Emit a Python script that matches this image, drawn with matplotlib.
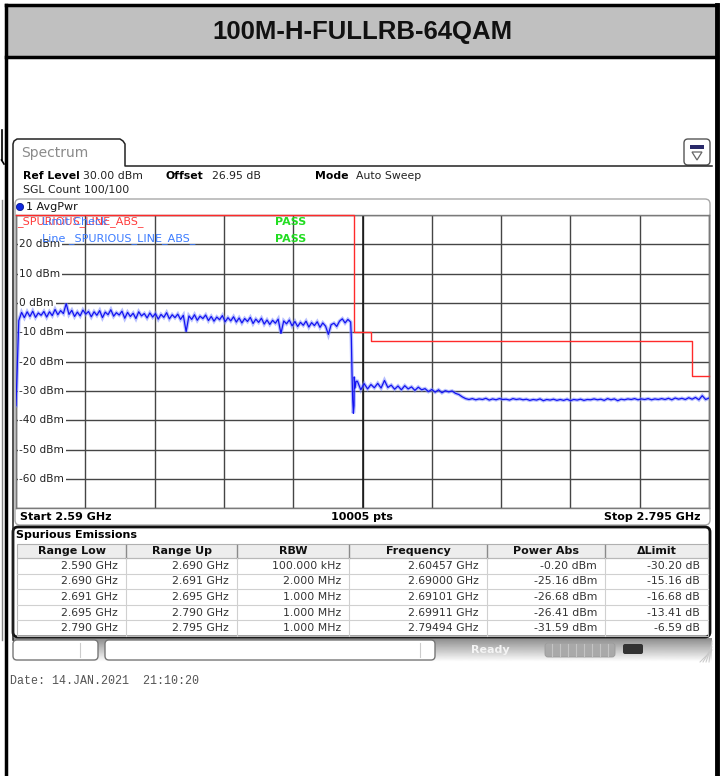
import numpy as np
import matplotlib
matplotlib.use("Agg")
import matplotlib.pyplot as plt
from matplotlib.patches import Rectangle, FancyBboxPatch, Circle, Polygon
from matplotlib.transforms import blended_transform_factory

# ---------------- data ----------------
title = "100M-H-FULLRB-64QAM"
start_ghz = 2.59
stop_ghz = 2.795
ref_level = 30.0
bottom_level = -70.0
y_tick_values = [20, 10, 0, -10, -20, -30, -40, -50, -60]

range_low = [2.590, 2.690, 2.691, 2.695, 2.790]
range_up = [2.690, 2.691, 2.695, 2.790, 2.795]
limit_dbm = [30.0, -10.0, -10.0, -13.0, -25.0]

# trace, part 1 (in-band, 2.5900 .. 2.6890 GHz)
trace1_dbm = [
    -35.0, -6.0, -3.2, -5.0, -3.0, -4.6, -2.8, -4.9, -3.4, -4.2,
    -2.9, -4.8, -3.0, -4.3, -2.2, -4.0, -2.6, -3.6, -0.2, -3.9,
    -2.5, -4.6, -3.1, -4.4, -2.4, -3.8, -2.9, -4.7, -3.0, -4.2,
    -2.6, -5.0, -3.1, -4.0, -2.3, -4.5, -3.3, -4.1, -2.8, -5.2,
    -3.2, -4.6, -3.5, -5.3, -3.0, -4.4, -3.6, -5.1, -3.4, -4.8,
    -3.6, -5.5, -3.9, -4.9, -3.3, -5.4, -4.0, -5.0, -3.8, -5.6,
    -4.2, -9.8, -4.4, -5.6, -4.0, -5.9, -4.5, -5.3, -4.1, -6.0,
    -4.6, -6.2, -4.8, -5.7, -4.3, -6.4, -5.0, -6.1, -4.7, -6.5,
    -5.1, -6.8, -5.3, -6.3, -4.9, -7.0, -5.5, -6.6, -5.2, -7.2,
    -5.8, -7.3, -5.9, -6.9, -5.5, -10.4, -6.1, -7.1, -5.8, -7.8,
    -6.3, -8.0, -6.6, -7.6, -6.2, -8.2, -6.7, -7.7, -6.4, -8.3,
    -6.8, -7.9, -10.7, -7.4, -6.9, -8.0, -6.2, -5.4, -6.8, -5.6,
    -6.5]
# band edge transition
edge_ghz = [2.6892, 2.6894, 2.6896, 2.6898, 2.6900, 2.69005, 2.6903, 2.6906]
edge_dbm = [-12.0, -24.0, -33.0, -37.6, -35.0, -25.2, -29.0, -26.7]
# trace, part 2 (out of band, 2.6910 .. 2.7950 GHz)
trace2_dbm = [
    -26.7, -29.6, -27.5, -29.3, -27.8, -28.9, -27.4, -29.0, -26.4, -28.8,
    -28.0, -29.4, -28.3, -29.6, -28.2, -29.3, -28.6, -29.8, -28.7, -29.6,
    -29.2, -30.2, -29.5, -30.4, -29.6, -30.6, -29.9, -30.3, -30.0, -30.8,
    -31.2, -32.0, -32.6, -32.9, -32.6, -33.0, -32.7, -32.9, -32.5, -33.1,
    -32.7, -33.0, -32.6, -32.9, -32.8, -33.1, -32.6, -32.9, -32.7, -33.0,
    -32.8, -33.2, -32.9, -33.1, -32.7, -33.3, -32.9, -33.1, -32.8, -33.2,
    -32.9, -33.2, -32.8, -33.3, -32.9, -33.1, -32.8, -33.2, -32.9, -33.0,
    -32.7, -33.0, -32.8, -33.2, -32.6, -33.0, -32.7, -33.3, -32.8, -33.0,
    -32.7, -32.9, -32.6, -33.0, -32.7, -32.9, -32.6, -33.0, -32.7, -32.9,
    -32.6, -32.9, -32.5, -33.0, -32.4, -32.8, -32.5, -32.9, -32.3, -32.8,
    -32.2, -33.0, -31.6, -32.9, -32.4]

table_headers = ["Range Low", "Range Up", "RBW", "Frequency", "Power Abs", "\u0394Limit"]
col_range_low = ["2.590 GHz", "2.690 GHz", "2.691 GHz", "2.695 GHz", "2.790 GHz"]
col_range_up = ["2.690 GHz", "2.691 GHz", "2.695 GHz", "2.790 GHz", "2.795 GHz"]
col_rbw = ["100.000 kHz", "2.000 MHz", "1.000 MHz", "1.000 MHz", "1.000 MHz"]
col_freq = ["2.60457 GHz", "2.69000 GHz", "2.69101 GHz", "2.69911 GHz", "2.79494 GHz"]
col_power = ["-0.20 dBm", "-25.16 dBm", "-26.68 dBm", "-26.41 dBm", "-31.59 dBm"]
col_delta = ["-30.20 dB", "-15.16 dB", "-16.68 dB", "-13.41 dB", "-6.59 dB"]

# ---------------- figure ----------------
W, H = 720, 776
fig = plt.figure(figsize=(W / 100, H / 100), dpi=100)
bg = fig.add_axes([0, 0, 1, 1])
bg.set_xlim(0, W)
bg.set_ylim(H, 0)
bg.axis("off")

SANS = "DejaVu Sans"

# outer table cell frame & title band
bg.add_patch(Rectangle((6, 5), 711, 52, facecolor="#c0c0c0", edgecolor="none"))
bg.plot([6, 717], [5, 5], color="black", lw=2.5)
bg.plot([6, 717], [57, 57], color="black", lw=2.5)
bg.plot([6, 6], [5, 776], color="black", lw=2.5)
bg.plot([717, 717], [5, 776], color="black", lw=3.5)
bg.text(362, 32, title, ha="center", va="center", fontsize=18.5,
        fontweight="bold", family="Liberation Sans", color="#111111")

# bits of neighbouring screenshot at far left
bg.plot([1.5, 1.5], [130, 160], color="black", lw=1.2)
bg.plot([1.5, 4], [160, 164], color="black", lw=1.2)
bg.plot([1.5, 1.5], [200, 640], color="#888888", lw=1.0)

# window frame with "Spectrum" tab
tab = [(13, 640), (13, 144), (14, 141), (17, 139), (120, 139), (123, 141),
       (125, 144), (125, 166), (712, 166)]
bg.plot([p[0] for p in tab], [p[1] for p in tab], color="#222222", lw=1.1)
bg.text(21, 153, "Spectrum", fontsize=10, family=SANS, color="#8a8a8a",
        va="center", ha="left")

# small icon top right
bg.add_patch(FancyBboxPatch((684, 139), 26, 26, boxstyle="round,pad=0,rounding_size=4",
                            facecolor="white", edgecolor="#555555", lw=1.0))
bg.add_patch(Rectangle((690, 145), 14, 4, facecolor="#2a2a6a", edgecolor="none"))
bg.add_patch(Polygon([(692, 152), (702, 152), (697, 160)], closed=True,
                     facecolor="white", edgecolor="#666666", lw=0.9))

# header info
bg.text(23, 176, "Ref Level", fontsize=7.8, fontweight="bold", family=SANS, va="center")
bg.text(83, 176, "30.00 dBm", fontsize=7.8, family=SANS, va="center", color="#222222")
bg.text(166, 176, "Offset", fontsize=7.8, fontweight="bold", family=SANS, va="center")
bg.text(212, 176, "26.95 dB", fontsize=7.8, family=SANS, va="center", color="#222222")
bg.text(315, 176, "Mode", fontsize=7.8, fontweight="bold", family=SANS, va="center")
bg.text(356, 176, "Auto Sweep", fontsize=7.8, family=SANS, va="center", color="#222222")
bg.text(23, 190, "SGL Count 100/100", fontsize=7.8, family=SANS, va="center", color="#222222")

# trace panel
bg.add_patch(FancyBboxPatch((15, 199), 695, 326, boxstyle="round,pad=0,rounding_size=5",
                            facecolor="white", edgecolor="#a8a8a8", lw=1.0))
bg.add_patch(Circle((20, 207), 3.6, facecolor="#1028e0", edgecolor="#0a1a90", lw=0.6))
bg.text(26, 207.5, "1 AvgPwr", fontsize=8, family=SANS, va="center", color="#111111")

# ---------------- spectrum axes ----------------
x0, x1, y0, y1 = 16, 709, 215, 508.3
ax = fig.add_axes([x0 / W, 1 - y1 / H, (x1 - x0) / W, (y1 - y0) / H])
ax.set_xlim(start_ghz, stop_ghz)
ax.set_ylim(bottom_level, ref_level)
ax.set_xticks(np.linspace(start_ghz, stop_ghz, 11))
ax.set_yticks(np.arange(bottom_level, ref_level + 1, 10))
ax.tick_params(length=0, labelbottom=False, labelleft=False)
ax.set_axisbelow(True)
ax.grid(True, color="#454545", lw=1.0)
ax.axvline((start_ghz + stop_ghz) / 2, color="#111111", lw=1.1, zorder=1)
for s in ax.spines.values():
    s.set_color("#7a7a7a")
    s.set_linewidth(1.0)

yl_tr = blended_transform_factory(ax.transAxes, ax.transData)
for v in y_tick_values:
    ax.text(0.005, v, f"{v} dBm", transform=yl_tr, fontsize=7.6, family=SANS,
            color="#222222", va="center", ha="left", zorder=2.5,
            bbox=dict(facecolor="white", edgecolor="none", pad=1.4))

# limit line
lim_x, lim_y = [], []
for lo, up, lv in zip(range_low, range_up, limit_dbm):
    lim_x += [lo, up]
    lim_y += [lv, lv]
ax.plot(lim_x, lim_y, color="#ff2a2a", lw=1.0, zorder=2.8, clip_on=False)

# trace
f1 = np.linspace(2.5900, 2.6890, len(trace1_dbm))
f2 = np.linspace(2.6910, 2.7950, len(trace2_dbm))
tf = np.concatenate([f1, edge_ghz, f2])
tv = np.concatenate([trace1_dbm, edge_dbm, trace2_dbm])
ax.plot(tf, tv, color="#7d8cff", lw=2.6, alpha=0.55, zorder=3, solid_joinstyle="miter")
ax.plot(tf, tv, color="#1414f0", lw=0.9, zorder=3.2)

# limit check texts (they overlap in the original screen too)
ax.text(17, 222, "_SPURIOUS_LINE_ABS_", transform=bg.transData, fontsize=8,
        family=SANS, color="#ff3b3b", va="center", zorder=4, clip_on=False)
ax.text(42, 222, "Limit Check", transform=bg.transData, fontsize=8,
        family=SANS, color="#3c7cff", va="center", zorder=4.1, clip_on=False)
ax.text(42, 239, "Line _SPURIOUS_LINE_ABS_", transform=bg.transData, fontsize=8,
        family=SANS, color="#3c7cff", va="center", zorder=4.1, clip_on=False)
for yy in (222, 239):
    ax.text(275, yy, "PASS", transform=bg.transData, fontsize=8, fontweight="bold",
            family=SANS, color="#22dd22", va="center", zorder=4.1, clip_on=False)

# start / stop row
bg.text(20, 516.5, "Start 2.59 GHz", fontsize=8, fontweight="bold", family=SANS, va="center")
bg.text(362, 516.5, "10005 pts", fontsize=8, fontweight="bold", family=SANS, va="center", ha="center")
bg.text(700, 516.5, "Stop 2.795 GHz", fontsize=8, fontweight="bold", family=SANS, va="center", ha="right")

# ---------------- spurious emissions table ----------------
bg.add_patch(FancyBboxPatch((13, 527), 697, 110, boxstyle="round,pad=0,rounding_size=5",
                            facecolor="white", edgecolor="#111111", lw=2.0))
bg.text(16, 535.5, "Spurious Emissions", fontsize=8, fontweight="bold", family=SANS, va="center")

col_edges = [17, 126, 237, 349, 487, 605, 708]
hdr_top, hdr_bot = 544, 558
row_h = 15.6
bg.add_patch(Rectangle((col_edges[0], hdr_top), col_edges[-1] - col_edges[0], hdr_bot - hdr_top,
                       facecolor="#ededed", edgecolor="#b0b0b0", lw=0.8))
for i, hname in enumerate(table_headers):
    cx = (col_edges[i] + col_edges[i + 1]) / 2
    bg.text(cx, 551.5, hname, fontsize=8, fontweight="bold", family=SANS,
            ha="center", va="center", color="#111111")
for xe in col_edges[1:-1]:
    bg.plot([xe, xe], [hdr_top + 1, hdr_bot], color="#8a8a8a", lw=1.0)
    bg.plot([xe, xe], [hdr_bot, hdr_bot + 5 * row_h], color="#d0d0d0", lw=0.8)
bg.add_patch(Rectangle((col_edges[0], hdr_bot), col_edges[-1] - col_edges[0], 5 * row_h,
                       facecolor="none", edgecolor="#b8b8b8", lw=0.8))
columns = [col_range_low, col_range_up, col_rbw, col_freq, col_power, col_delta]
for r in range(5):
    yc = hdr_bot + (r + 0.5) * row_h
    if r > 0:
        bg.plot([col_edges[0], col_edges[-1]], [hdr_bot + r * row_h] * 2, color="#d0d0d0", lw=0.8)
    for c, col in enumerate(columns):
        bg.text(col_edges[c + 1] - 8, yc, col[r], fontsize=7.8, family=SANS,
                ha="right", va="center", color="#333333")

# ---------------- status bar ----------------
grad = np.linspace(0.55, 1.0, 40).reshape(-1, 1)
bg.imshow(grad, extent=(13, 712, 662, 638), cmap="gray", vmin=0, vmax=1,
          aspect="auto", zorder=0.5)
bg.add_patch(FancyBboxPatch((13, 640), 85, 20, boxstyle="round,pad=0,rounding_size=4",
                            facecolor="white", edgecolor="#777777", lw=1.0, zorder=1))
bg.plot([80, 80], [643, 657], color="#cccccc", lw=0.8, zorder=1.1)
bg.add_patch(FancyBboxPatch((105, 640), 330, 20, boxstyle="round,pad=0,rounding_size=4",
                            facecolor="white", edgecolor="#777777", lw=1.0, zorder=1))
bg.plot([420, 420], [643, 657], color="#cccccc", lw=0.8, zorder=1.1)
bg.text(490, 650, "Ready", fontsize=8, fontweight="bold", family=SANS,
        color="#f4f4f4", va="center", ha="center", zorder=1.2)
bg.add_patch(FancyBboxPatch((545, 643), 70, 14, boxstyle="round,pad=0,rounding_size=3",
                            facecolor="#a9a9a9", edgecolor="#9a9a9a", lw=0.6, zorder=1))
for xx in range(552, 612, 8):
    bg.plot([xx, xx], [644, 656], color="#c4c4c4", lw=0.8, zorder=1.1)
bg.add_patch(FancyBboxPatch((623, 644), 20, 10, boxstyle="round,pad=0,rounding_size=2",
                            facecolor="#333333", edgecolor="none", zorder=1.1))
for k in range(4):
    bg.plot([700 + 3 * k, 712], [662, 650 - 3 * k], color="#c8c8c8", lw=0.7, zorder=1.1)

# date line
bg.text(10, 681, "Date: 14.JAN.2021  21:10:20", fontsize=8.4, family="Liberation Mono",
        color="#555555", va="center", ha="left")

fig.savefig("out.png", dpi=100)
